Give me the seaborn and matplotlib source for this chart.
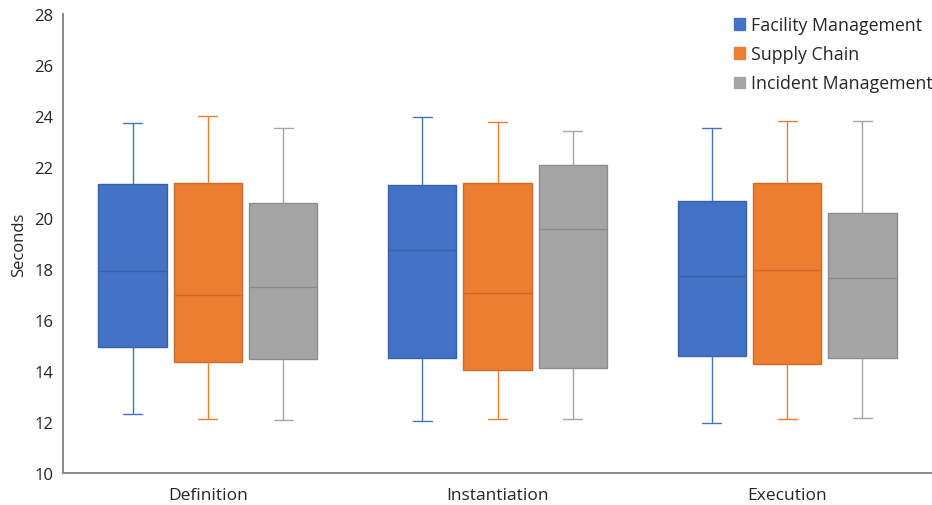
import pandas as pd
import matplotlib
matplotlib.use("Agg")
import matplotlib.pyplot as plt
import seaborn as sns
from matplotlib.patches import Patch

# Daten
categories = ["Definition", "Instantiation", "Execution"]
series = ["Facility Management", "Supply Chain", "Incident Management"]
# five-number summary per phase: whisker low, Q1, median, Q3, whisker high
facility = [[12.31, 14.95, 17.91, 21.32, 23.71],
            [12.05, 14.52, 18.75, 21.29, 23.96],
            [11.95, 14.60, 17.73, 20.65, 23.53]]
supply = [[12.12, 14.35, 16.99, 21.38, 24.01],
          [12.12, 14.05, 17.07, 21.38, 23.75],
          [12.12, 14.29, 17.95, 21.36, 23.79]]
incident = [[12.08, 14.46, 17.28, 20.58, 23.53],
            [12.12, 14.13, 19.56, 22.09, 23.42],
            [12.16, 14.50, 17.65, 20.20, 23.82]]
y_ticks = [10, 12, 14, 16, 18, 20, 22, 24, 26, 28]

colors = ["#4472C4", "#ED7D31", "#A5A5A5"]
median_colors = ["#3561AE", "#CF6A28", "#8C8C8C"]

rows = []
for name, summaries in zip(series, [facility, supply, incident]):
    for cat, vals in zip(categories, summaries):
        for v in vals:
            rows.append({"Phase": cat, "Project": name, "Seconds": v})
df = pd.DataFrame(rows)

sns.set_style("white")
plt.rcParams["font.family"] = ["Open Sans", "DejaVu Sans"]

fig = plt.figure(figsize=(9.32, 5.06), dpi=100)
ax = fig.add_axes([0.0676, 0.0632, 0.9324, 0.9072])

sns.boxplot(data=df, x="Phase", y="Seconds", hue="Project",
            order=categories, hue_order=series, palette=colors,
            whis=(0, 100), width=0.78, gap=0.09, linewidth=1,
            saturation=1, capwidths=0.065, legend=False, ax=ax)

# colour whiskers / medians per series
for cont, c, mc in zip(ax.containers, colors, median_colors):
    for b in cont.boxes:
        b.set_facecolor(c)
        b.set_edgecolor(mc)
    for ln in list(cont.whiskers) + list(cont.caps):
        ln.set_color(c)
    for ln in cont.medians:
        ln.set_color(mc)

ax.set_ylim(10, 28)
ax.set_yticks(y_ticks)
ax.set_xlim(-0.5, 2.5)
ax.set_xlabel("")
ax.set_ylabel("Seconds", fontsize=12, color="#262626", labelpad=5)
ax.tick_params(axis="both", length=0, colors="#262626")
ax.tick_params(axis="x", labelsize=12.5, pad=10)
ax.tick_params(axis="y", labelsize=12, pad=7)
for s in ["top", "right"]:
    ax.spines[s].set_visible(False)
for s in ["left", "bottom"]:
    ax.spines[s].set_color("#8a8a8a")
    ax.spines[s].set_linewidth(1.4)

handles = [Patch(facecolor=c, edgecolor=c) for c in colors]
ax.legend(handles, series, loc="upper right", bbox_to_anchor=(1.011, 0.985),
          bbox_transform=fig.transFigure, frameon=False, fontsize=12.8,
          handlelength=0.6, handleheight=0.6, handletextpad=0.35,
          labelspacing=0.62, borderaxespad=0.15)

fig.savefig("out.png", dpi=100)
